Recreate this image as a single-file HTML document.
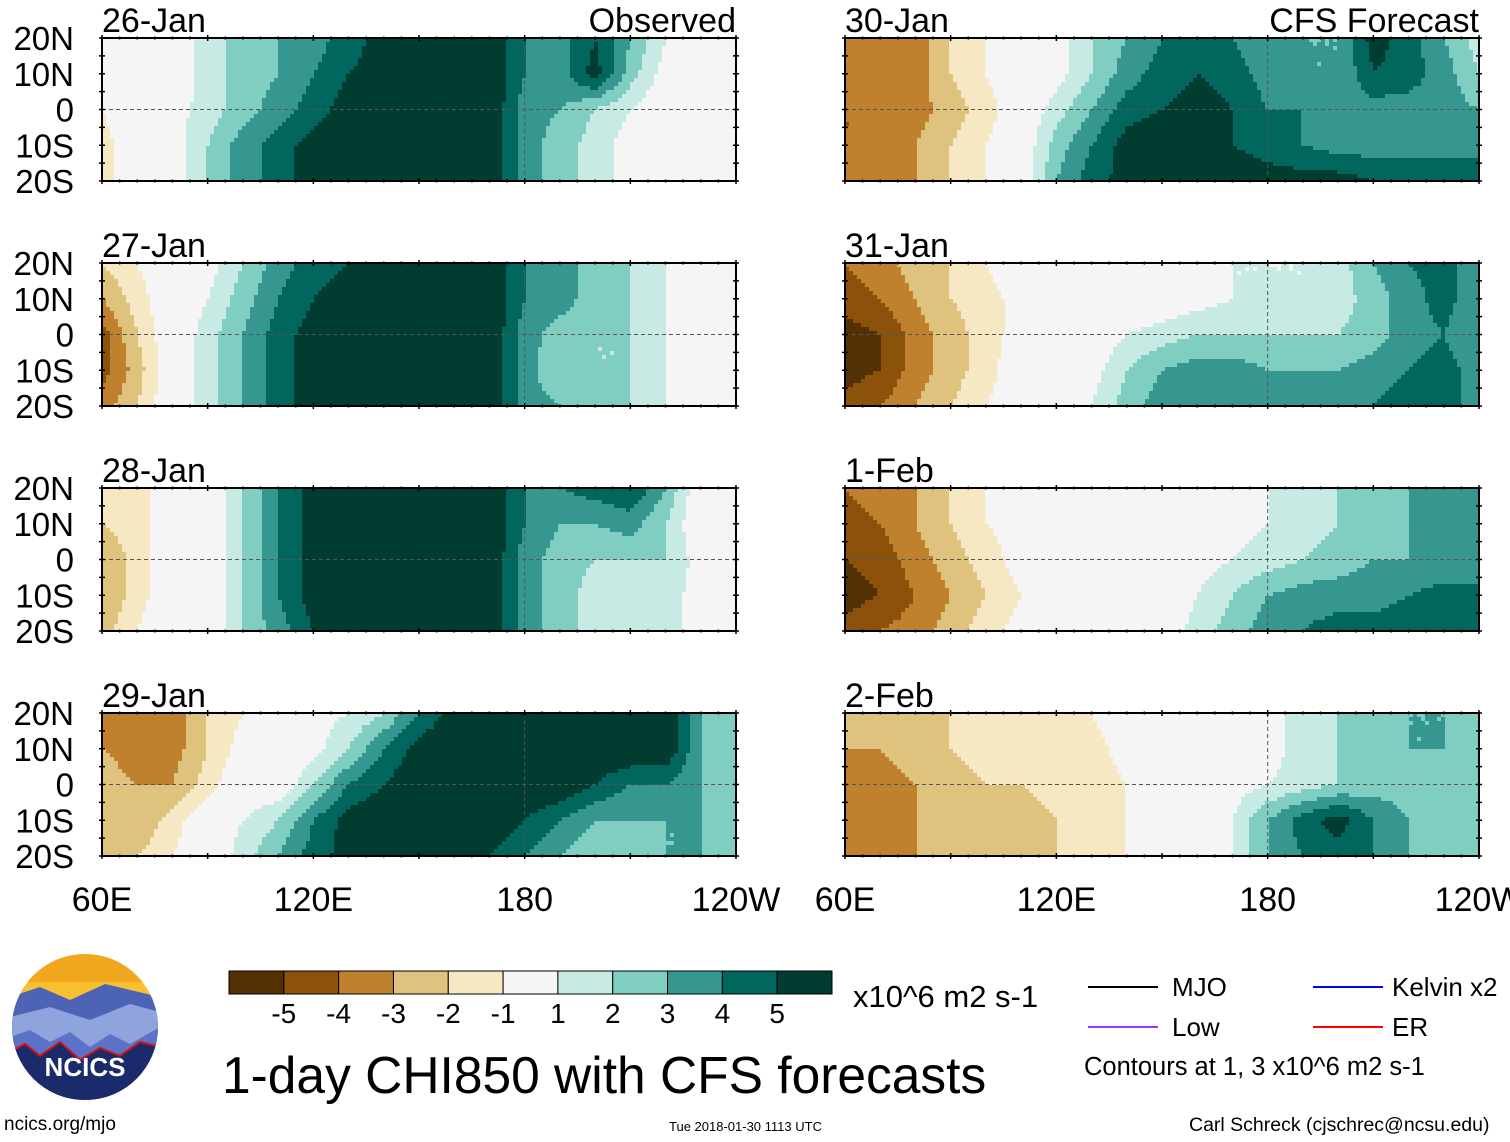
<!DOCTYPE html>
<html><head><meta charset="utf-8">
<style>
body{margin:0;background:#fff;width:1510px;height:1142px;position:relative;overflow:hidden;font-family:"Liberation Sans",Arial,sans-serif;}
.abs{position:absolute;}
</style></head>
<body>
<svg id="chart" width="1510" height="1142" style="position:absolute;left:0;top:0">
</svg>
<script>
const lons=[60,70,80,90,100,110,120,130,140,150,160,170,180,190,200,210,220,230,240];
const lats=[20,10,0,-10,-20];
const levels=[-5,-4,-3,-2,-1,1,2,3,4,5];
const colors=["#543005","#8c510a","#bf812d","#dfc27d","#f6e8c3","#f5f5f5","#c7eae5","#80cdc1","#35978f","#01665e","#003c30"];
const colorbarLabels=["-5","-4","-3","-2","-1","1","2","3","4","5"];
const dates=["26-Jan","27-Jan","28-Jan","29-Jan","30-Jan","31-Jan","1-Feb","2-Feb"];
const latLabels=["20N","10N","0","10S","20S"];
const lonLabels=["60E","120E","180","120W"];
const p1=[[0,0,0,1.5,2.5,3,3.5,4.5,5.5,5.5,6,6,4,3.5,5,3,1,0,0],[0,0,0,1.5,2.5,3,4,5,5.5,5.5,6,6,4,3.5,5.5,2.5,0.5,0,0],[-1,0,0.5,1.5,2.5,3.5,4.5,5.5,5.5,6,6,6,3.5,3,2,1,0,0,0],[-1.5,0,0.5,2,3.5,4.5,5.5,5.5,6,6,6,6,3.5,2.5,1.5,0.5,0,0,0],[-1.5,0,0.5,2,3.5,4.5,5.5,5.5,6,6,6,6,3.5,2.5,1.5,0.5,0,-1,0]];
const p2=[[-2,-1,0,0.5,2,3.5,4.5,5,5.5,6,6,6,4,3,3,2,1,0,-1],[-3,-1.5,0,1,2.5,4,5,5.5,6,6,6,6,4,3.5,2.5,2,1,0,0],[-4.5,-2,0,1.5,3,4.5,5.5,6,6,6,6,6,3.5,2.5,2,2,1,0,0],[-4.5,-2.5,0,1.5,3,4.5,5.5,6,6,6,6,6,3.5,2,2,2,1,0,0],[-3.5,-2,0,1.5,3,4.5,5.5,6,6,6,6,6,3.5,3,2.5,2,1,0,0]];
const p3=[[-1.5,-1.5,0,0,2,4,5.5,6,6,6,6,6,4,4,4.5,5,3,0,0],[-2,-1.5,0,0,2,4,5.5,6,6,6,6,6,4,3,3,3.5,2,0,0],[-3,-1.5,0,0,2,4,5.5,6,6,6,6,6,3.5,2.5,2,2,2,0.5,0],[-3,-1.5,0,0,2,4,5.5,6,6,6,6,6,3.5,2.5,1.5,1.5,1.5,0.5,0],[-2.5,-1,0,0,2,3.5,5,6,6,6,6,6,3.5,2.5,1.5,1.5,1.5,0.5,0]];
const p4=[[-3.5,-3.5,-3.5,-2,-1,0,0.5,1,2,4,5.5,6,6,6,6,6,6,3,2],[-3,-3.5,-3.5,-2,-0.5,0,0.5,2,4,5.5,6,6,6,6,6,6,6,3,2],[-2.5,-3,-3,-1.5,0,0,2,4,5,6,6,6,6,6,5,4,4,3,2],[-2.5,-3,-1.5,0,1,2,4,5.5,6,6,6,6,5,4,3,3,3,3,2],[-2,-2,-1,0,1.5,3,4.5,5.5,6,6,6,5,4,3,2,2,3,3,2]];
const p5=[[-3.5,-4,-3.5,-2,-1,0,0.5,2,3,4,4.5,4,3,3,3,5.5,4.5,3,1.5],[-3.5,-4,-3.5,-2,-1,0,0.5,2,3.5,4.5,5,4.5,3.5,3,3,5,4.5,3.5,2],[-4,-4,-3.5,-2.5,-1.5,0,1.5,3,4.5,5,5.5,5,4,4,3.5,3.5,3.5,3.5,3],[-4,-4,-3,-2,-1,0,2.5,4,5.5,6,5.5,5,4.5,4,3.5,3.5,3.5,3.5,3.5],[-4,-4,-3,-2,-1,0,3,4.5,5.5,6,6,6,5.5,5.5,5.5,5,5,5,5]];
const p6=[[-4,-3.5,-2.5,-2,-1,0,0,0,0,0,0,1,1,1,1.5,3,4,4.5,3],[-4.5,-4,-3,-2,-1.5,-0.5,0,0,0,0,0.5,1,1,1,1.5,2.5,3.5,4.5,3],[-5.5,-5,-3.5,-2.5,-1.5,-0.5,0,0,1,1.5,2,2,2,2,2,2.5,3.5,4,3],[-5.5,-5,-3.5,-2.5,-1.5,0,0,0.5,2,3,3.5,3.5,3,3,3,3.5,4,4.5,3.5],[-4.5,-4,-3,-2,-1,0,0,1,2.5,3.5,4,4,3.5,3.5,3.5,4,4.5,4.5,3.5]];
const p7=[[-4,-3.5,-3,-2,-1,0,0,0,0,0,0,0.5,1,1.5,2,2.5,3,3.5,3],[-4.5,-4,-3,-2,-1,-0.5,0,0,0,0,0,0.5,1,1.5,2,2.5,3,3.5,3],[-5,-4.5,-3.5,-2.5,-1.5,-0.5,0,0,0,0,0.5,1,1.5,2,2.5,3,3,3,3],[-5.5,-5,-4,-3,-2,-1,0,0,0,0,1,2,3,3.5,3.5,3.5,4,4.5,4.5],[-4.5,-4,-3.5,-2.5,-1.5,-0.5,0,0,0,0,1.5,2.5,3.5,4,4.5,4.5,5,5,4.5]];
const p8=[[-2.5,-2.5,-2.5,-2,-1.5,-1.5,-1.5,-1,0,0,0,0,0.5,1.5,2,2.5,3,3,2.5],[-3,-3,-2.5,-2,-1.5,-1.5,-1.5,-1.5,-0.5,0,0,0,0.5,1.5,2,2.5,3,3,2.5],[-3.5,-3.5,-3,-2.5,-2,-2,-1.5,-1.5,-1,0,0,0.5,1,1.5,2,2.5,2.5,2.5,2.5],[-3,-3.5,-3,-2.5,-2.5,-2.5,-2,-2,-1,0,0,1,3,4.5,5.5,4,3,2.5,2],[-3,-3,-3,-2.5,-2.5,-2.5,-2,-2,-1,0,0,1,3,4,4.5,4,3,2.5,2]];
const panelsData=[p1,p2,p3,p4,p5,p6,p7,p8];

const NS="http://www.w3.org/2000/svg";
const svg=document.getElementById('chart');
function mk(tag,attrs,parent){const e=document.createElementNS(NS,tag);for(const k in attrs)e.setAttribute(k,attrs[k]);(parent||svg).appendChild(e);return e;}
function colorFor(v){let i=0;while(i<levels.length&&v>=levels[i])i++;return colors[i];}
const lefts=[102,845],tops=[38,263,488,713],PW=634,PH=143;
function interp(g,lon,lat){
  let fx=(lon-lons[0])/10, fy=(lats[0]-lat)/10;
  fx=Math.max(0,Math.min(lons.length-1.001,fx));fy=Math.max(0,Math.min(lats.length-1.001,fy));
  const i=Math.floor(fx),j=Math.floor(fy),tx=fx-i,ty=fy-j;
  return g[j][i]*(1-tx)*(1-ty)+g[j][i+1]*tx*(1-ty)+g[j+1][i]*(1-tx)*ty+g[j+1][i+1]*tx*ty;
}
panelsData.forEach((g,p)=>{
  const col=p<4?0:1,row=p%4,x0=lefts[col],y0=tops[row];
  const xS=lon=>x0+(lon-60)/180*PW, yS=lat=>y0+(20-lat)/40*PH;
  const grp=mk('g',{});
  
  
  const step=4;
  for(let py=0;py<PH;py+=step){
    let runStart=0,runCol=null;
    for(let px=0;px<PW+step;px+=step){
      let c=null;
      if(px<PW){const lon=60+(px+step/2)/PW*180,lat=20-(py+step/2)/PH*40;c=colorFor(interp(g,lon,lat));}
      if(c!==runCol){
        if(runCol!==null){const r=mk('rect',{x:x0+runStart,y:y0+py,width:Math.min(px,PW)-runStart,height:Math.min(step,PH-py),fill:runCol},grp);}
        runStart=px;runCol=c;
      }
    }
  }
  mk('line',{x1:x0,x2:x0+PW,y1:yS(0),y2:yS(0),stroke:'#555','stroke-dasharray':'4,3','stroke-width':1},grp);
  mk('line',{x1:xS(180),x2:xS(180),y1:y0,y2:y0+PH,stroke:'#555','stroke-dasharray':'4,3','stroke-width':1},grp);
  mk('rect',{x:x0,y:y0,width:PW,height:PH,fill:'none',stroke:'#000','stroke-width':2},grp);
  for(let lon=60;lon<=240;lon+=5){const L=lon%30===0?6:3;
    mk('line',{x1:xS(lon),x2:xS(lon),y1:y0-L/2,y2:y0+L/2,stroke:'#000','stroke-width':1.5},grp);
    mk('line',{x1:xS(lon),x2:xS(lon),y1:y0+PH-L/2,y2:y0+PH+L/2,stroke:'#000','stroke-width':1.5},grp);}
  for(let lat=-20;lat<=20;lat+=5){
    mk('line',{x1:x0-3,x2:x0+3,y1:yS(lat),y2:yS(lat),stroke:'#000','stroke-width':1.5},grp);
    mk('line',{x1:x0+PW-3,x2:x0+PW+3,y1:yS(lat),y2:yS(lat),stroke:'#000','stroke-width':1.5},grp);}
  const t=mk('text',{x:x0,y:y0-6,'font-size':34,fill:'#000'},grp);t.textContent=dates[p];
  
  if(col===0){latLabels.forEach((s,k)=>{const tt=mk('text',{x:74,y:yS(lats[k])+12,'font-size':33,'text-anchor':'end'},grp);tt.textContent=s;
    });}
  if(row===0){const tt=mk('text',{x:x0+PW,y:y0-6,'font-size':34,'text-anchor':'end'},grp);tt.textContent=col===0?'Observed':'CFS Forecast';
    }
  if(row===3){lonLabels.forEach((s,k)=>{const tt=mk('text',{x:xS(60+k*60),y:911,'font-size':34,'text-anchor':'middle'},grp);tt.textContent=s;
    });}
});
const cb=mk('g',{});
const cbx=229,cbw=603/colors.length;
colors.forEach((c,i)=>{const r=mk('rect',{x:cbx+i*cbw,y:971,width:cbw,height:23,fill:c,stroke:'#000','stroke-width':1},cb);});
colorbarLabels.forEach((s,i)=>{const t=mk('text',{x:cbx+(i+1)*cbw,y:1023,'font-size':28,'text-anchor':'middle'},cb);t.textContent=s;});
</script>
<div class="abs" style="left:853px;top:979px;font-size:31px;white-space:nowrap">x10^6 m2 s-1</div>
<div class="abs" style="left:222px;top:1045px;font-size:51.5px;white-space:nowrap">1-day CHI850 with CFS forecasts</div>
<div class="abs" style="left:669px;top:1119px;font-size:13px">Tue 2018-01-30 1113 UTC</div>
<div class="abs" style="left:4px;top:1114px;font-size:19px">ncics.org/mjo</div>
<div class="abs" style="left:1189px;top:1114px;font-size:19.5px;white-space:nowrap">Carl Schreck (cjschrec@ncsu.edu)</div>
<svg class="abs" style="left:1080px;top:965px" width="430" height="120">
<line x1="8" y1="22" x2="78" y2="22" stroke="#000" stroke-width="2"/><text x="92" y="31" font-size="26">MJO</text>
<line x1="8" y1="62" x2="78" y2="62" stroke="#9933ff" stroke-width="2"/><text x="92" y="71" font-size="26">Low</text>
<line x1="233" y1="22" x2="303" y2="22" stroke="#0000ff" stroke-width="2"/><text x="312" y="31" font-size="26">Kelvin x2</text>
<line x1="233" y1="62" x2="303" y2="62" stroke="#ff0000" stroke-width="2"/><text x="312" y="71" font-size="26">ER</text>
<text x="4" y="110" font-size="25.5">Contours at 1, 3 x10^6 m2 s-1</text>
</svg>
<svg class="abs" style="left:10px;top:952px" width="150" height="150">
<defs><clipPath id="c"><circle cx="75" cy="75" r="73"/></clipPath></defs>
<g clip-path="url(#c)">
<rect width="150" height="150" fill="#f6c030"/>
<rect y="0" width="150" height="30" fill="#f2a81e"/>
<path d="M0 45 L30 35 L60 48 L95 32 L150 45 L150 150 L0 150Z" fill="#4d63b5"/>
<path d="M0 65 L40 55 L80 68 L120 52 L150 60 L150 150 L0 150Z" fill="#8fa3dd"/>
<path d="M0 85 L20 78 L40 90 L60 80 L80 95 L100 82 L120 92 L150 75 L150 150 L0 150Z" fill="#5c72c6"/>
<path d="M0 100 L15 92 L30 104 L50 90 L70 108 L90 96 L110 104 L130 90 L150 95 L150 150 L0 150Z" fill="#1b2a6b"/>
<polyline points="0,100 15,92 30,104 50,90 70,108 90,96 110,104 130,90 150,95" fill="none" stroke="#d01010" stroke-width="2"/>
</g>
<text x="75" y="124" font-size="26" font-weight="bold" fill="#fff" text-anchor="middle">NCICS</text>
</svg>
</body></html>
